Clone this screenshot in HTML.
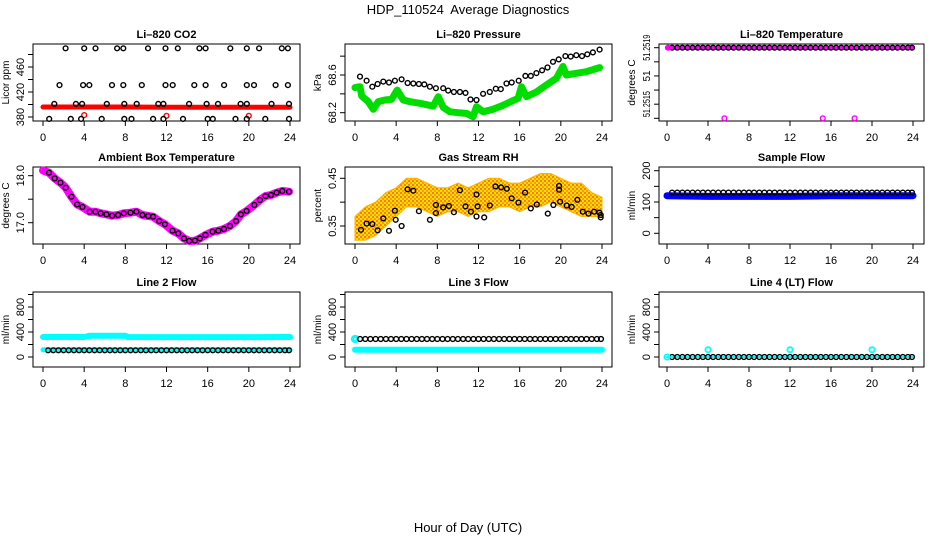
<!DOCTYPE html>
<html><head><meta charset="utf-8">
<style>
html,body{margin:0;padding:0;background:#fff;}
svg{display:block;font-family:"Liberation Sans",sans-serif;}
</style></head>
<body>
<svg id="chart" width="936" height="540" viewBox="0 0 936 540" xmlns="http://www.w3.org/2000/svg">
<defs>
<pattern id="orangeDots" width="4" height="4" patternUnits="userSpaceOnUse">
<rect width="4" height="4" fill="#ffe000"/>
<rect width="2" height="2" fill="#ff7a00"/>
<rect x="2" y="2" width="2" height="2" fill="#ff9a00"/>
</pattern>
</defs>
<text x="468" y="14" text-anchor="middle" font-size="13" xml:space="preserve">HDP_110524  Average Diagnostics</text>
<text x="468" y="532" text-anchor="middle" font-size="13">Hour of Day (UTC)</text>
<g id="plots"></g>
</svg>
<script>
// ---------- DATA ----------
const xTicks = [0,4,8,12,16,20,24];
const regH = [0.5,1,1.5,2,2.5,3,3.5,4,4.5,5,5.5,6,6.5,7,7.5,8,8.5,9,9.5,10,10.5,11,11.5,12,12.5,13,13.5,14,14.5,15,15.5,16,16.5,17,17.5,18,18.5,19,19.5,20,20.5,21,21.5,22,22.5,23,23.5,23.9];

// CO2
const co2H = [2.2,4.0,5.1,7.2,7.8,10.2,11.9,13.1,15.2,15.8,18.2,19.8,21.0,23.2,23.8,
 1.6,3.9,4.5,6.7,7.8,9.6,11.9,12.6,14.7,15.8,17.6,19.8,20.5,22.6,23.8,
 1.1,3.2,3.8,6.2,7.9,9.1,11.2,11.7,14.2,15.9,17.0,19.2,19.8,22.2,23.9,
 0.6,2.7,3.7,5.7,7.9,8.6,10.7,11.7,13.6,16.0,16.5,18.7,19.8,21.6,23.9];
const co2V = [490,490,490,490,490,490,490,490,490,490,490,490,490,490,490,
 431,431,431,431,431,431,431,431,431,431,431,431,431,431,431,
 401,401,401,401,401,401,401,401,401,401,401,401,401,401,401,
 377,377,377,377,377,377,377,377,377,377,377,377,377,377,377];
const co2RedH = [0,4,8,12,16,20,24];
const co2RedV = [396,396,396,395.5,395.5,395.5,395.5];
const co2RedPtH = [4,12,20];
const co2RedPtV = [383,382,382];

// Pressure
const presH = [0.49,1.13,1.68,2.2,2.75,3.3,3.88,4.53,5.11,5.66,6.21,6.73,7.28,7.86,8.57,9.06,9.61,10.19,10.74,11.22,11.81,12.45,13.1,13.68,14.17,14.72,15.23,15.91,16.56,17.08,17.63,18.18,18.7,19.24,19.79,20.44,20.96,21.5,22.06,22.57,23.12,23.77];
const presV = [68.583,68.54,68.476,68.505,68.53,68.52,68.54,68.554,68.515,68.51,68.505,68.50,68.476,68.46,68.46,68.434,68.42,68.42,68.41,68.34,68.335,68.40,68.42,68.455,68.45,68.51,68.52,68.54,68.59,68.59,68.62,68.65,68.68,68.74,68.766,68.80,68.795,68.81,68.80,68.82,68.84,68.87];
const presGreenH = [0,0.49,0.65,1.29,1.78,2.26,2.91,3.56,4.1,4.69,5.34,6.31,7.6,8.09,8.57,9.22,10.03,10.83,11.48,11.81,12.45,13.42,14.4,15.36,15.85,16.17,16.66,17.63,18.6,19.57,20.2,20.54,21.5,22.48,23.77];
const presGreenV = [68.466,68.476,68.377,68.317,68.236,68.317,68.335,68.342,68.44,68.335,68.317,68.30,68.27,68.37,68.257,68.21,68.20,68.193,68.158,68.264,68.21,68.236,68.28,68.328,68.352,68.476,68.37,68.42,68.494,68.565,68.69,68.60,68.618,68.635,68.678];

// Li-820 temperature
const tempV = [51.2519,51.2519,51.2519,51.2519,51.2519,51.2519,51.2519,51.2519,51.2519,51.2519,51.2519,51.2519,51.2519,51.2519,51.2519,51.2519,51.2519,51.2519,51.2519,51.2519,51.2519,51.2519,51.2519,51.2519,51.2519,51.2519,51.2519,51.2519,51.2519,51.2519,51.2519,51.2519,51.2519,51.2519,51.2519,51.2519,51.2519,51.2519,51.2519,51.2519,51.2519,51.2519,51.2519,51.2519,51.2519,51.2519,51.2519,51.2519];
const tempMagH = [0,24];
const tempMagV = [51.2519,51.2519];
const tempLowH = [0.1,5.6,15.2,18.3];
const tempLowV = [51.2519,51.2514,51.2514,51.2514];

// Ambient box temperature
const ambH = [0.58,1.14,1.69,2.21,2.76,3.31,3.83,4.54,5.09,5.61,6.16,6.71,7.30,7.85,8.50,9.08,9.66,10.22,10.70,11.29,11.84,12.58,13.14,13.69,14.21,14.76,15.24,15.79,16.48,17.03,17.58,18.16,18.75,19.23,19.78,20.53,21.08,21.63,22.15,22.70,23.25,23.90];
const ambV = [18.064,17.943,17.851,17.745,17.553,17.390,17.333,17.234,17.234,17.199,17.177,17.149,17.163,17.199,17.213,17.234,17.163,17.142,17.128,17.035,16.965,16.830,16.773,16.667,16.610,16.617,16.667,16.738,16.809,16.830,16.865,16.929,17.035,17.177,17.248,17.376,17.482,17.567,17.589,17.638,17.674,17.660];
const ambMagH = [0,0.58,1.14,1.69,2.21,2.76,3.31,3.83,4.54,5.09,5.61,6.16,6.71,7.30,7.85,8.50,9.08,9.66,10.22,10.70,11.29,11.84,12.58,13.14,13.69,14.21,14.76,15.24,15.79,16.48,17.03,17.58,18.16,18.75,19.23,19.78,20.53,21.08,21.63,22.15,22.70,23.25,23.90];
const ambMagV = [18.11,18.064,17.943,17.851,17.745,17.553,17.390,17.333,17.234,17.234,17.199,17.177,17.149,17.163,17.199,17.213,17.234,17.163,17.142,17.128,17.035,16.965,16.830,16.773,16.667,16.610,16.617,16.667,16.738,16.809,16.830,16.865,16.929,17.035,17.177,17.248,17.376,17.482,17.567,17.589,17.638,17.674,17.660];

// Gas stream RH
const rhH = [0.58,1.13,1.68,2.2,2.75,3.3,3.88,3.95,4.53,5.11,5.66,6.21,7.28,7.86,7.86,8.57,9.12,9.61,10.19,10.74,11.26,11.81,11.81,11.91,12.55,13.1,13.65,14.2,14.75,15.23,15.88,16.53,17.08,17.66,18.73,19.28,19.83,19.83,19.93,20.57,21.06,21.61,22.13,22.68,23.23,23.74,23.87,23.87];
const rhV = [0.342,0.355,0.354,0.341,0.366,0.340,0.382,0.363,0.350,0.427,0.424,0.381,0.363,0.394,0.377,0.389,0.392,0.379,0.425,0.391,0.380,0.416,0.370,0.391,0.368,0.393,0.433,0.431,0.428,0.408,0.399,0.420,0.387,0.395,0.376,0.394,0.426,0.434,0.401,0.393,0.390,0.405,0.380,0.376,0.380,0.378,0.368,0.373];
const rhBandH = [0,1,2,3,4,5,6,7,8,9,10,11,12,13,14,15,16,17,18,19,20,21,22,23,24];
const rhBandLo = [0.32,0.32,0.33,0.35,0.37,0.39,0.39,0.38,0.37,0.38,0.38,0.37,0.38,0.38,0.39,0.39,0.38,0.39,0.39,0.40,0.39,0.38,0.37,0.37,0.37];
const rhBandHi = [0.37,0.39,0.40,0.42,0.43,0.45,0.45,0.44,0.43,0.43,0.44,0.43,0.44,0.45,0.45,0.44,0.44,0.45,0.46,0.46,0.45,0.44,0.44,0.42,0.41];

// Sample flow
const sampleV = [130,130,130,130,130,130,130,130,130,130,130,130,130,130,130,130,130,130,130,130,130,130,130,130,130,130,130,130,130,130,130,130,130,130,130,130,130,130,130,130,130,130,130,130,130,130,130,130];
const sampleBlueH = [0,4,8,12,16,20,24];
const sampleBlueV = [120,118,118,118,120,120,120];

// Line 2 flow
const line2V = [108,108,108,108,108,108,108,108,108,108,108,108,108,108,108,108,108,108,108,108,108,108,108,108,108,108,108,108,108,108,108,108,108,108,108,108,108,108,108,108,108,108,108,108,108,108,108,108];
const line2CyanHiH = [0,4,4.5,8,8.2,12,16,20,24];
const line2CyanHiV = [320,320,340,340,320,318,318,318,320];
const line2CyanLoH = [0,24];
const line2CyanLoV = [115,115];

// Line 3 flow
const line3V = [288,288,288,288,288,288,288,288,288,288,288,288,288,288,288,288,288,288,288,288,288,288,288,288,288,288,288,288,288,288,288,288,288,288,288,288,288,288,288,288,288,288,288,288,288,288,288,288];
const line3CyanH = [0,24];
const line3CyanV = [115,115];
const line3CyanPtH = [0];
const line3CyanPtV = [288];

// Line 4 flow
const line4V = [0,0,0,0,0,0,0,0,0,0,0,0,0,0,0,0,0,0,0,0,0,0,0,0,0,0,0,0,0,0,0,0,0,0,0,0,0,0,0,0,0,0,0,0,0,0,0,0];
const line4CyanH = [0,24];
const line4CyanV = [0,0];
const line4CyanPtH = [0,4,12,20];
const line4CyanPtV = [0,117,117,117];

// ---------- DRAWING ----------
const NS = "http://www.w3.org/2000/svg";
const root = document.getElementById('plots');
function mk(tag, attrs, parent){
  const e = document.createElementNS(NS, tag);
  for (const k in attrs) e.setAttribute(k, attrs[k]);
  (parent||root).appendChild(e);
  return e;
}
const colX = [{L:33,R:300,x0:43,x24:290},{L:345,R:612,x0:355,x24:602},{L:659,R:924,x0:667,x24:913}];
const rowY = [{T:44,B:121},{T:167,B:244},{T:292,B:367}];

function linY(v0,p0,v1,p1){ return v => p0 + (v-v0)*(p1-p0)/(v1-v0); }

const panels = [
 {name:'co2',title:'Li\u2013820 CO2',ylab:'Licor ppm',c:0,r:0,y:linY(380,117,460,67),
  ticks:[380,400,420,440,460,480],labels:[[380,'380'],[420,'420'],[460,'460']]},
 {name:'pressure',title:'Li\u2013820 Pressure',ylab:'kPa',c:1,r:0,y:linY(68.6,75,68.2,112.7),
  ticks:[68.2,68.4,68.6,68.8],labels:[[68.2,'68.2'],[68.6,'68.6']]},
 {name:'li820-temp',title:'Li\u2013820 Temperature',ylab:'degrees C',c:2,r:0,y:linY(51.2519,47.7,51.2514,118.3),
  ticks:[51.2514,51.2515,51.2516,51.2517,51.2518,51.2519],labels:[[51.2515,'51.2515'],[51.2517,'51'],[51.2519,'51.2519']],squeeze:true},
 {name:'ambient-temp',title:'Ambient Box Temperature',ylab:'degrees C',c:0,r:1,y:linY(18,175.7,17,222.7),
  ticks:[17.0,17.5,18.0],labels:[[17.0,'17.0'],[18.0,'18.0']]},
 {name:'gas-rh',title:'Gas Stream RH',ylab:'percent',c:1,r:1,y:linY(0.45,178.3,0.35,226),
  ticks:[0.35,0.40,0.45],labels:[[0.35,'0.35'],[0.45,'0.45']]},
 {name:'sample-flow',title:'Sample Flow',ylab:'ml/min',c:2,r:1,y:linY(0,233.3,200,170.7),
  ticks:[0,50,100,150,200],labels:[[0,'0'],[100,'100'],[200,'200']]},
 {name:'line2-flow',title:'Line 2 Flow',ylab:'ml/min',c:0,r:2,y:linY(0,357,800,307),
  ticks:[0,200,400,600,800,1000],labels:[[0,'0'],[400,'400'],[800,'800']]},
 {name:'line3-flow',title:'Line 3 Flow',ylab:'ml/min',c:1,r:2,y:linY(0,357,800,307),
  ticks:[0,200,400,600,800,1000],labels:[[0,'0'],[400,'400'],[800,'800']]},
 {name:'line4-flow',title:'Line 4 (LT) Flow',ylab:'ml/min',c:2,r:2,y:linY(0,357,800,307),
  ticks:[0,200,400,600,800,1000],labels:[[0,'0'],[400,'400'],[800,'800']]}
];

function frame(p){
  const C = colX[p.c], R = rowY[p.r];
  p.x = linY(0,C.x0,24,C.x24);
  const g = mk('g',{});
  
  
  p.g = g;
  const t = mk('text',{x:(C.L+C.R)/2,y:R.T-6,'text-anchor':'middle','font-size':11,'font-weight':'bold'},g);
  t.textContent = p.title;
  
  
  const box = mk('rect',{x:C.L,y:R.T,width:C.R-C.L,height:R.B-R.T,fill:'none',stroke:'#000','stroke-width':1},g);
  
  
  xTicks.forEach(h=>{
    const xx = p.x(h);
    mk('line',{x1:xx,x2:xx,y1:R.B,y2:R.B+5,stroke:'#000'},g);
    const tl = mk('text',{x:xx,y:R.B+20,'text-anchor':'middle','font-size':11},g);
    tl.textContent = h;
    
    
  });
  p.ticks.forEach(v=>{
    const yy = p.y(v);
    mk('line',{x1:C.L-5,x2:C.L,y1:yy,y2:yy,stroke:'#000'},g);
  });
  p.labels.forEach(([v,s])=>{
    const yy = p.y(v), xx = C.L-9;
    const attrs = {x:xx,y:yy,'text-anchor':'middle','font-size':p.squeeze?10:11,transform:`rotate(-90 ${xx} ${yy})`};
    if (p.squeeze && s.length > 3) { attrs.textLength = 26; attrs.lengthAdjust = 'spacingAndGlyphs'; }
    const tl = mk('text',attrs,g);
    tl.textContent = s;
    
    
  });
  const yl = mk('text',{x:C.L-24,y:(R.T+R.B)/2,'text-anchor':'middle','font-size':10,transform:`rotate(-90 ${C.L-24} ${(R.T+R.B)/2})`},g);
  yl.textContent = p.ylab;
  
  
}
function band(p, H, V, color, w, nm){
  const pts = H.map((h,i)=>p.x(h).toFixed(1)+','+p.y(V[i]).toFixed(1)).join(' ');
  const pl = mk('polyline',{points:pts,fill:'none',stroke:color,'stroke-width':w,'stroke-linejoin':'round','stroke-linecap':'round'},p.g);
  
  
}
function pts(p, H, V, color, nm, r, sw){
  H.forEach((h,i)=>{
    const c = mk('circle',{cx:p.x(h).toFixed(1),cy:p.y(V[i]).toFixed(1),r:r||2.4,fill:'none',stroke:color,'stroke-width':sw||1.4},p.g);
    
    
  });
}

panels.forEach(frame);
const [pC,pP,pT,pA,pR,pS,p2,p3,p4] = panels;

band(pC, co2RedH, co2RedV, '#ff0000', 5, 'co2-red-series');
pts(pC, co2RedPtH, co2RedPtV, '#ff0000', 'co2-red-point');
pts(pC, co2H, co2V, '#000', 'co2-point');

band(pP, presGreenH, presGreenV, '#00dd00', 7, 'pressure-green-series');
pts(pP, presH, presV, '#000', 'pressure-point');

band(pT, tempMagH, tempMagV, '#ff00ff', 4, 'temp-magenta-series');
pts(pT, regH, tempV, '#000', 'temp-point');
pts(pT, tempLowH, tempLowV, '#ff00ff', 'temp-magenta-point');

band(pA, ambMagH, ambMagV, '#ff00ff', 8, 'ambient-magenta-series');
pts(pA, ambH, ambV, '#000', 'ambient-point');

{
  const top = rhBandH.map((h,i)=>pR.x(h).toFixed(1)+','+pR.y(rhBandHi[i]).toFixed(1));
  const bot = rhBandH.map((h,i)=>pR.x(h).toFixed(1)+','+pR.y(rhBandLo[i]).toFixed(1)).reverse();
  const poly = mk('polygon',{points:top.concat(bot).join(' '),fill:'url(#orangeDots)',stroke:'#ffb000','stroke-width':1},pR.g);
  
  
}
pts(pR, rhH, rhV, '#000', 'rh-point');

band(pS, sampleBlueH, sampleBlueV, '#0000ff', 7, 'sample-blue-series');
pts(pS, regH, sampleV, '#000', 'sample-point');

band(p2, line2CyanHiH, line2CyanHiV, '#00ffff', 6, 'line2-cyan-high');
band(p2, line2CyanLoH, line2CyanLoV, '#00ffff', 5, 'line2-cyan-low');
pts(p2, regH, line2V, '#000', 'line2-point');

band(p3, line3CyanH, line3CyanV, '#00ffff', 6, 'line3-cyan-series');
pts(p3, line3CyanPtH, line3CyanPtV, '#00ffff', 'line3-cyan-point', 2.6, 3);
pts(p3, regH, line3V, '#000', 'line3-point');

band(p4, line4CyanH, line4CyanV, '#00ffff', 2, 'line4-cyan-series');
pts(p4, regH, line4V, '#000', 'line4-point');
pts(p4, line4CyanPtH, line4CyanPtV, '#00ffff', 'line4-cyan-point', 2.6, 1.8);
</script>
</body></html>
